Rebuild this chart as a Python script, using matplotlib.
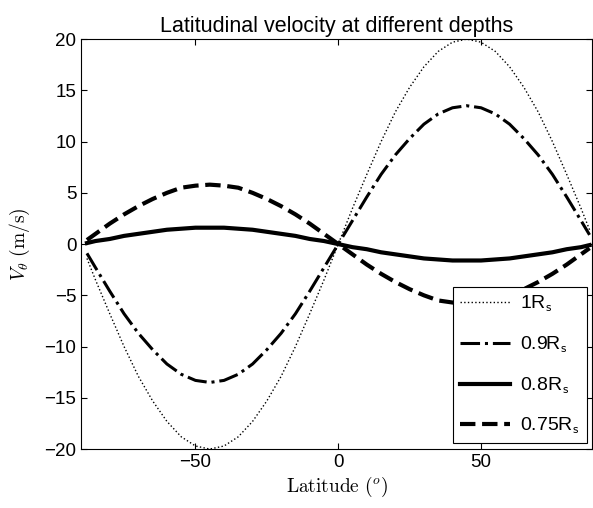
import matplotlib
matplotlib.use("Agg")
import matplotlib.pyplot as plt

plt.rcParams["font.family"] = ["Liberation Sans", "DejaVu Sans"]
plt.rcParams["mathtext.fontset"] = "cm"

# latitude (degres) et vitesses
latitude = [-88, -85, -80, -75, -70, -65, -60, -55, -50, -45, -40, -35, -30, -25,
            -20, -15, -10, -5, 0, 5, 10, 15, 20, 25, 30, 35, 40, 45, 50, 55,
            60, 65, 70, 75, 80, 85, 88]

v_100 = [-1.4, -3.5, -6.8, -10.0, -12.9, -15.3, -17.3, -18.8, -19.7, -20.0,
         -19.7, -18.8, -17.3, -15.3, -12.9, -10.0, -6.8, -3.5, 0.0,
         3.5, 6.8, 10.0, 12.9, 15.3, 17.3, 18.8, 19.7, 20.0, 19.7, 18.8,
         17.3, 15.3, 12.9, 10.0, 6.8, 3.5, 1.4]

v_090 = [-0.9, -2.3, -4.6, -6.8, -8.7, -10.3, -11.7, -12.7, -13.3, -13.5,
         -13.3, -12.7, -11.7, -10.3, -8.7, -6.8, -4.6, -2.3, 0.0,
         2.3, 4.6, 6.8, 8.7, 10.3, 11.7, 12.7, 13.3, 13.5, 13.3, 12.7,
         11.7, 10.3, 8.7, 6.8, 4.6, 2.3, 0.9]

v_080 = [0.1, 0.3, 0.5, 0.8, 1.0, 1.2, 1.4, 1.5, 1.6, 1.6,
         1.6, 1.5, 1.4, 1.2, 1.0, 0.8, 0.5, 0.3, 0.0,
         -0.3, -0.5, -0.8, -1.0, -1.2, -1.4, -1.5, -1.6, -1.6, -1.6, -1.5,
         -1.4, -1.2, -1.0, -0.8, -0.5, -0.3, -0.1]

v_075 = [0.4, 1.0, 2.0, 2.9, 3.7, 4.4, 5.0, 5.5, 5.7, 5.8,
         5.7, 5.5, 5.0, 4.4, 3.7, 2.9, 2.0, 1.0, 0.0,
         -1.0, -2.0, -2.9, -3.7, -4.4, -5.0, -5.5, -5.7, -5.8, -5.7, -5.5,
         -5.0, -4.4, -3.7, -2.9, -2.0, -1.0, -0.4]

fig = plt.figure(figsize=(5.93, 5.08), dpi=100)
ax = fig.add_axes([0.137, 0.116, 0.862, 0.807])

ax.plot(latitude, v_100, color="black", linestyle=":", linewidth=1.0,
        label=r"1R$_\mathsf{s}$")
ax.plot(latitude, v_090, color="black", linestyle="-.", linewidth=2.2,
        label=r"0.9R$_\mathsf{s}$")
ax.plot(latitude, v_080, color="black", linestyle="-", linewidth=3.0,
        label=r"0.8R$_\mathsf{s}$")
ax.plot(latitude, v_075, color="black", linestyle="--", linewidth=3.0,
        label=r"0.75R$_\mathsf{s}$")

ax.set_xlim(-90, 89)
ax.set_ylim(-20, 20)
ax.set_xticks([-50, 0, 50])
ax.set_yticks(range(-20, 21, 5))
ax.tick_params(direction="in", top=True, right=True, labelsize=13.5, length=4)

ax.set_title("Latitudinal velocity at different depths", fontsize=15.5, pad=5)
ax.set_xlabel(r"$\mathrm{Latitude\ (}^{o}\mathrm{)}$", fontsize=14, labelpad=3)
ax.set_ylabel(r"$V_\theta\ \mathrm{(m/s)}$", fontsize=14, labelpad=9)

leg = ax.legend(loc="lower right", fontsize=14, handlelength=2.6,
                handletextpad=0.5, labelspacing=1.05,
                fancybox=False, framealpha=1, edgecolor="black",
                borderaxespad=0.3, borderpad=0.35)
leg.get_frame().set_linewidth(0.8)

plt.savefig("out.png", dpi=100)
